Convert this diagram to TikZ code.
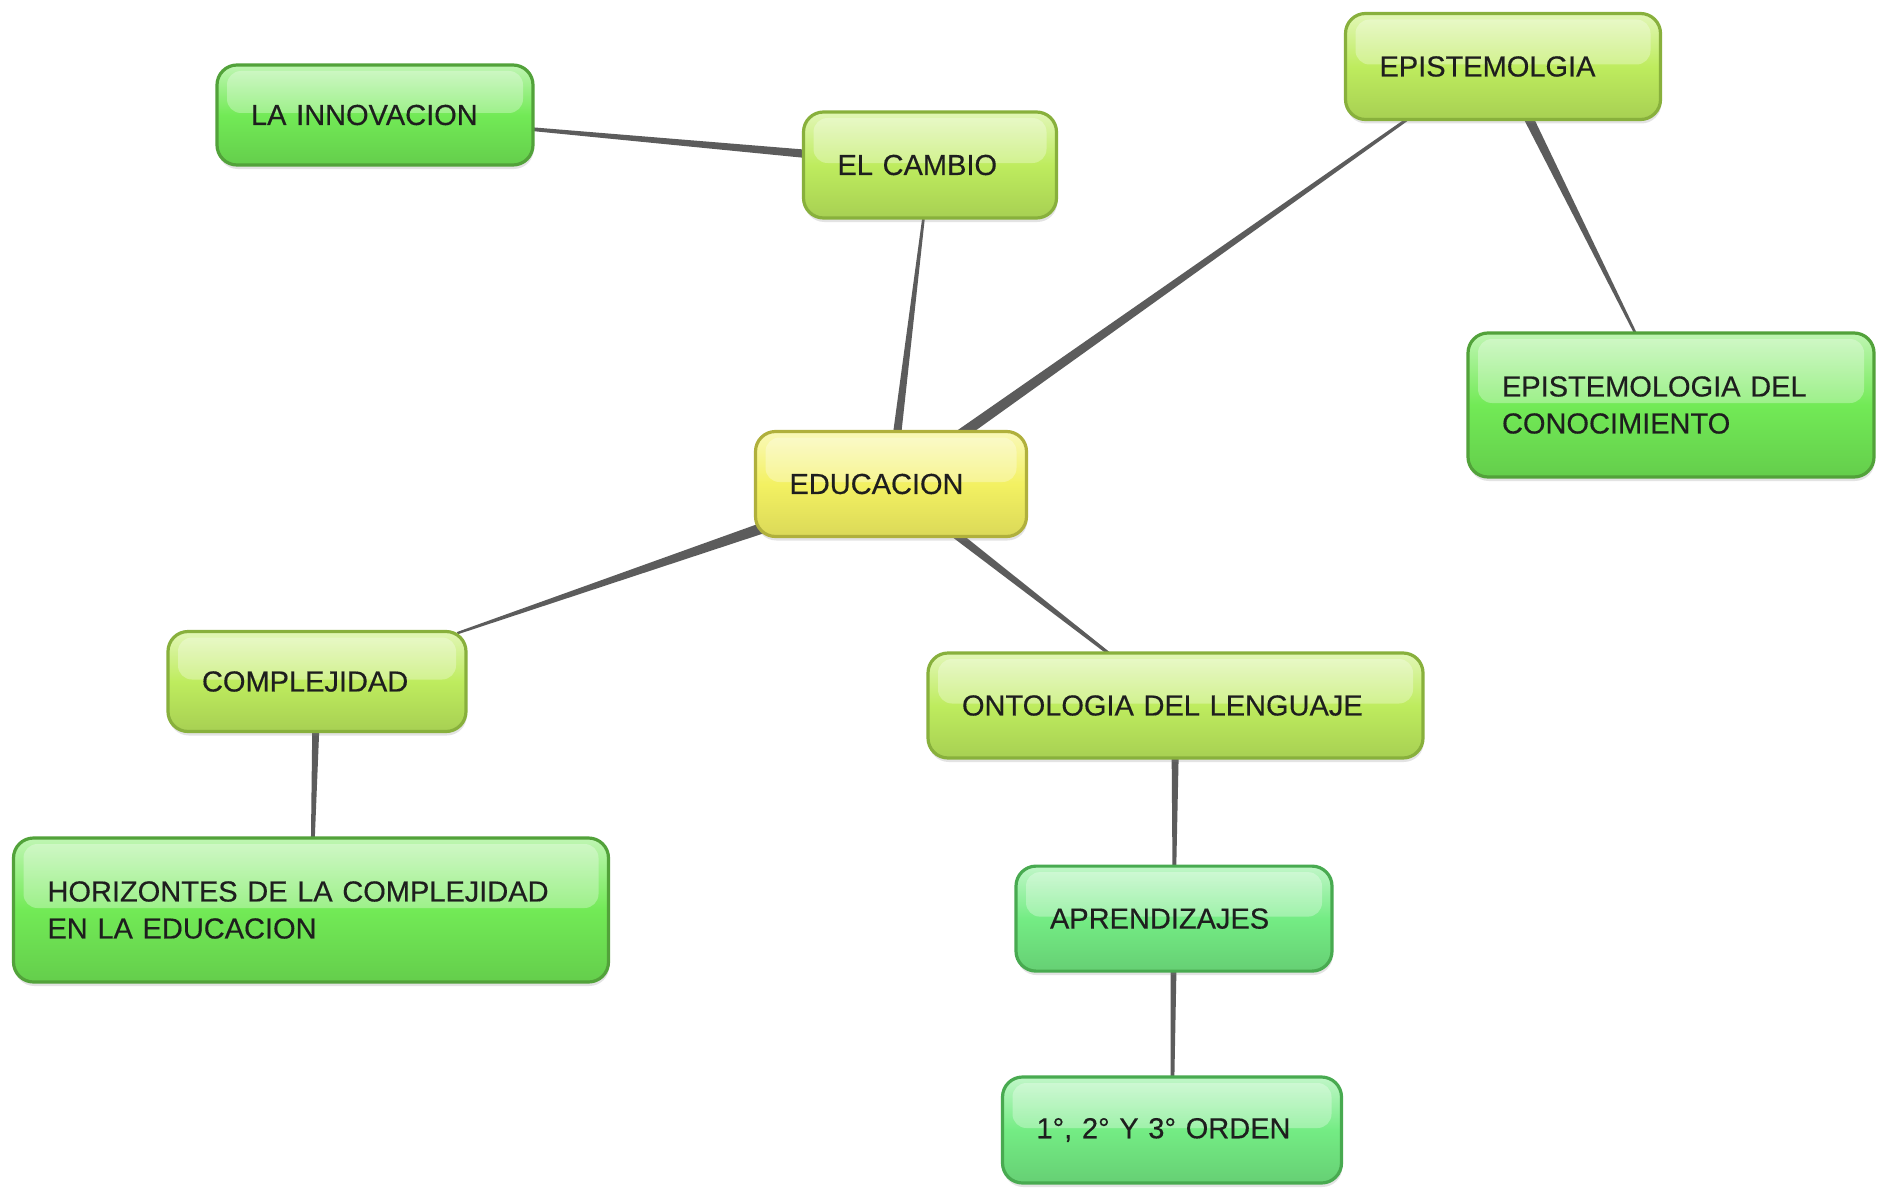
\documentclass[tikz,border=0pt]{standalone}
\usepackage{fontspec}
\setmainfont{Liberation Sans}
\newfontfamily\boxfont[FakeBold=0.35]{Liberation Sans}
\usetikzlibrary{calc,shadows,backgrounds}
\definecolor{gBright}{HTML}{72EA56}
\definecolor{gBrightD}{HTML}{52A23A}
\definecolor{gLime}{HTML}{BEEC5E}
\definecolor{gLimeD}{HTML}{88B03C}
\definecolor{gYel}{HTML}{F3F162}
\definecolor{gYelD}{HTML}{B0B03C}
\definecolor{gMint}{HTML}{74EC84}
\definecolor{gMintD}{HTML}{48AA50}
\definecolor{connc}{HTML}{5C5C5C}
\definecolor{txt}{HTML}{1E1E1E}
\tikzset{
  mapbox/.style={rounded corners=10pt, line width=1.6pt, inner xsep=17pt, inner ysep=0pt,
    align=left, font=\boxfont\fontsize{14.5}{18.5}\selectfont, text=txt,
    drop shadow={opacity=0.22, shadow xshift=0.4pt, shadow yshift=-2pt},
    path picture={\fill[white,opacity=0.3,rounded corners=7pt]
      ([xshift=5pt,yshift=-3pt]path picture bounding box.north west) rectangle
      ([xshift=-5pt,yshift=1pt]path picture bounding box.east);}},
  bright/.style={mapbox, draw=gBrightD, top color=gBright!45!white, bottom color=gBright!88!black, middle color=gBright},
  lime/.style={mapbox, draw=gLimeD, top color=gLime!45!white, bottom color=gLime!88!black, middle color=gLime},
  yel/.style={mapbox, draw=gYelD, top color=gYel!45!white, bottom color=gYel!90!black, middle color=gYel},
  mint/.style={mapbox, draw=gMintD, top color=gMint!45!white, bottom color=gMint!88!black, middle color=gMint},
  conn/.style={fill=connc}
}
\newcommand\link[4]{%
  \path (#1) -- (#2) coordinate[pos=0] (ka) coordinate[pos=1] (kb);
  \coordinate (kc) at ($(ka)!-5pt!(kb)$);
  \coordinate (kd) at ($(kb)!-5pt!(ka)$);
  \fill[conn] ($(kc)!#3!90:(kd)$) -- ($(kd)!#4!-90:(kc)$) -- ($(kd)!#4!90:(kc)$) -- ($(kc)!#3!-90:(kd)$) -- cycle;}
\begin{document}
\begin{tikzpicture}[x=0.5pt,y=-0.5pt]
\useasboundingbox (0,0) rectangle (1878,1188);
\begin{scope}[on background layer]
\fill[white] (0,0) rectangle (1878,1188);
\end{scope}

\node[bright, minimum width=158pt, text width=124pt, minimum height=50pt] (inn) at (375,115) {\mbox{LA INNOVACION}};
\node[lime, minimum width=126.5pt, text width=92.5pt, minimum height=53pt] (cam) at (930,165) {\mbox{EL CAMBIO}};
\node[lime, minimum width=157.5pt, text width=123.5pt, minimum height=53pt] (epi) at (1503,66.5) {\mbox{EPISTEMOLGIA}};
\node[bright, minimum width=203pt, text width=169pt, minimum height=72pt] (epc) at (1671,405) {\mbox{EPISTEMOLOGIA DEL}\\\mbox{CONOCIMIENTO}};
\node[yel, minimum width=135.5pt, text width=101.5pt, minimum height=52.5pt] (edu) at (891,484) {\mbox{EDUCACION}};
\node[lime, minimum width=149pt, text width=115pt, minimum height=50pt] (com) at (317,681.5) {\mbox{COMPLEJIDAD}};
\node[lime, minimum width=247.5pt, text width=213.5pt, minimum height=52.5pt] (ont) at (1175.5,705.5) {\mbox{ONTOLOGIA DEL LENGUAJE}};
\node[bright, minimum width=297.5pt, text width=263.5pt, minimum height=72pt] (hor) at (311,910) {\mbox{HORIZONTES DE LA COMPLEJIDAD}\\\mbox{EN LA EDUCACION}};
\node[mint, minimum width=158pt, text width=124pt, minimum height=52.5pt] (apr) at (1174,918.6) {\mbox{APRENDIZAJES}};
\node[mint, minimum width=169.5pt, text width=135.5pt, minimum height=53pt] (ord) at (1172,1130) {\mbox{1°, 2° Y 3° ORDEN}};
\coordinate (epiT) at ([xshift=-10.5pt]epi.center);

\begin{scope}[on background layer]
\link{inn}{cam}{0.9pt}{2.1pt}
\link{cam}{edu}{0.6pt}{2.1pt}
\link{epiT}{edu}{0.4pt}{2.7pt}
\link{epi}{epc}{2.4pt}{0.6pt}
\link{edu}{com}{2.7pt}{0.6pt}
\link{edu}{ont}{2.1pt}{0.75pt}
\link{com}{hor}{1.8pt}{0.9pt}
\link{ont}{apr}{1.8pt}{0.9pt}
\link{apr}{ord}{1.5pt}{0.9pt}
\end{scope}
\end{tikzpicture}
\end{document}
